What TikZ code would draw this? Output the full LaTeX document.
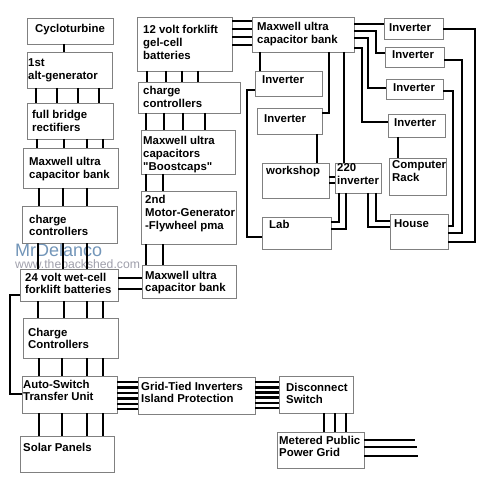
\documentclass[tikz,border=0pt]{standalone}
\usepackage{fontspec}
\setmainfont{Liberation Sans}[Ligatures=TeXOff]
\definecolor{wmblue}{RGB}{115,150,185}
\definecolor{wmgray}{RGB}{160,160,172}
\tikzset{
 boxst/.style={draw=black!50, line width=0.8pt, inner sep=0pt, outer sep=0pt},
 txt/.style={anchor=base west, inner sep=0pt, font=\fontsize{11.4}{12.8}\selectfont\bfseries},
 wire/.style={line width=2.6pt, line cap=butt},
}
\newcommand{\mybox}[8]{%
 \node[boxst, minimum width={(#4)-(#2)}, minimum height={(#5)-(#3)}] (#1) at ({((#2)+(#4))/2},{((#3)+(#5))/2}) {};
 \node[txt] (#1-t) at (#6,#7) {\begin{tabular}[t]{@{}l@{}}#8\end{tabular}};
}
\newcommand{\vw}[3]{\draw[wire] (#1,0 |- #2.south) -- (#1,0 |- #3.north);}
\newcommand{\hw}[3]{\draw[wire] (#2.east |- 0,#1) -- (#3.west |- 0,#1);}
\begin{document}
\begin{tikzpicture}[x=1pt,y=-1pt]
\useasboundingbox[fill=white] (0,0) rectangle (500,478);
% watermark
\node[anchor=base west, inner sep=0pt, font=\fontsize{18}{18}\selectfont, text=wmblue] (wm1) at (15,256) {MrDelanco};
\node[anchor=base west, inner sep=0pt, font=\fontsize{12.2}{12}\selectfont, text=wmgray] (wm2) at (15,268) {www.thebackshed.com};
% left column
\mybox{cyc}{27}{18}{113}{44}{35}{33}{Cycloturbine}
\mybox{alt}{27}{52}{112}{88}{28}{67}{1st\\alt-generator}
\mybox{rect}{27}{103}{113}{139}{32}{119}{full bridge\\rectifiers}
\mybox{mxl}{23}{148}{118}{188}{29}{166}{Maxwell ultra\\capacitor bank}
\mybox{ccl}{22}{206}{117}{243}{29}{223}{charge\\controllers}
\mybox{bt}{20}{269}{118}{301}{25}{281}{24 volt wet-cell\\forklift batteries}
\mybox{ccb}{23}{318}{118}{358}{28}{336}{Charge\\Controllers}
\mybox{asw}{22}{376}{117}{413}{23}{388}{Auto-Switch\\Transfer Unit}
\mybox{sol}{20}{436}{114}{472}{23}{451}{Solar Panels}
% middle column
\mybox{bg}{137}{17}{232}{71}{143}{34}{12 volt forklift\\gel-cell\\batteries}
\mybox{ccm}{138}{82}{240}{113}{143}{95}{charge\\controllers}
\mybox{bst}{141}{130}{235}{174}{143}{145}{Maxwell ultra\\capacitors\\"Boostcaps"}
\mybox{mot}{141}{191}{236}{244}{145}{204}{2nd\\Motor-Generator\\-Flywheel pma}
\mybox{mxm}{142}{265}{236}{298}{145}{279}{Maxwell ultra\\capacitor bank}
% right area
\mybox{mxt}{252}{17}{354}{52}{257}{31}{Maxwell ultra\\capacitor bank}
\mybox{inva}{255}{71}{322}{96}{262}{84}{Inverter}
\mybox{invb}{257}{108}{322}{134}{264}{123}{Inverter}
\mybox{work}{262}{163}{329}{198}{266}{175}{workshop}
\mybox{itw}{335}{163}{381}{193}{337}{172}{220\\inverter}
\mybox{lab}{262}{217}{331}{249}{269}{229}{Lab}
\mybox{comp}{389}{158}{446}{195}{392}{169}{Computer\\Rack}
\mybox{house}{390}{214}{448}{249}{394}{228}{House}
\mybox{ra}{384}{18}{443}{39}{389}{32}{Inverter}
\mybox{rb}{385}{47}{444}{67}{392}{59}{Inverter}
\mybox{rc}{386}{79}{443}{99}{393}{92}{Inverter}
\mybox{rd}{388}{114}{445}{137}{394}{127}{Inverter}
% bottom
\mybox{grid}{138}{377}{255}{414}{141}{390}{Grid-Tied Inverters\\Island Protection}
\mybox{disc}{279}{376}{353}{413}{286}{391}{Disconnect\\Switch}
\mybox{met}{277}{432}{364}{468}{279}{444}{Metered Public\\Power Grid}
% wires, left column
\vw{64}{cyc}{alt}
\foreach \x in {36,57,78,99} {\vw{\x}{alt}{rect}}
\foreach \x in {37,64,87,103} {\vw{\x}{rect}{mxl}}
\foreach \x in {39,63,87} {\vw{\x}{mxl}{ccl}}
\foreach \x in {38,63,87} {\vw{\x}{ccl}{bt}}
\foreach \x in {38,64,87,103} {\vw{\x}{bt}{ccb}}
\foreach \x in {39,62,87,103} {\vw{\x}{ccb}{asw}}
\foreach \x in {39,62,87,103} {\vw{\x}{asw}{sol}}
\draw[wire] (bt.west |- 0,295) -- (10,295) -- (10,394) -- (asw.west |- 0,394);
\foreach \y in {278,289} {\hw{\y}{bt}{mxm}}
% bottom wires
\foreach \y in {382,387.5,393,398.5,404,409} {\hw{\y}{asw}{grid}}
\foreach \y in {382,387.2,392.4,397.6,402.8,408} {\hw{\y}{grid}{disc}}
\foreach \x in {324,335,346} {\vw{\x}{disc}{met}}
\coordinate (oa) at (415,440);
\coordinate (ob) at (417,447);
\coordinate (oc) at (418,456);
\draw[wire] (met.east |- oa) -- (oa);
\draw[wire] (met.east |- ob) -- (ob);
\draw[wire] (met.east |- oc) -- (oc);
% middle wires
\foreach \x in {147,166,182,198} {\vw{\x}{bg}{ccm}}
\foreach \x in {146,164,183,205} {\vw{\x}{ccm}{bst}}
\foreach \x in {146,163} {\vw{\x}{bst}{mot}}
\foreach \x in {146,163} {\vw{\x}{mot}{mxm}}
\foreach \y in {21,29,37,45} {\hw{\y}{bg}{mxt}}
% right wires
\vw{260}{mxt}{inva}
\draw[wire] (329,0 |- mxt.south) -- (329,113) -- (invb.east |- 0,113);
\vw{317}{invb}{work}
\vw{344}{mxt}{itw}
\foreach \y in {177,183} {\hw{\y}{work}{itw}}
\draw[wire] (339,0 |- itw.south) -- (339,222) -- (lab.east |- 0,222);
\draw[wire] (346,0 |- itw.south) -- (346,229) -- (lab.east |- 0,229);
\draw[wire] (inva.west |- 0,90) -- (247,90) -- (247,237) -- (lab.west |- 0,237);
\draw[wire] (368,0 |- itw.south) -- (368,227) -- (house.west |- 0,227);
\draw[wire] (376,0 |- itw.south) -- (376,221) -- (house.west |- 0,221);
\hw{24}{mxt}{ra}
\draw[wire] (mxt.east |- 0,31) -- (376,31) -- (376,53) -- (rb.west |- 0,53);
\draw[wire] (mxt.east |- 0,38) -- (368,38) -- (368,88) -- (rc.west |- 0,88);
\draw[wire] (mxt.east |- 0,48) -- (362,48) -- (362,122) -- (rd.west |- 0,122);
\vw{398}{rd}{comp}
\draw[wire] (ra.east |- 0,29) -- (475,29) -- (475,242) -- (house.east |- 0,242);
\draw[wire] (rb.east |- 0,60) -- (462,60) -- (462,233) -- (house.east |- 0,233);
\draw[wire] (rc.east |- 0,91) -- (453,91) -- (453,226) -- (house.east |- 0,226);
\end{tikzpicture}
\end{document}
